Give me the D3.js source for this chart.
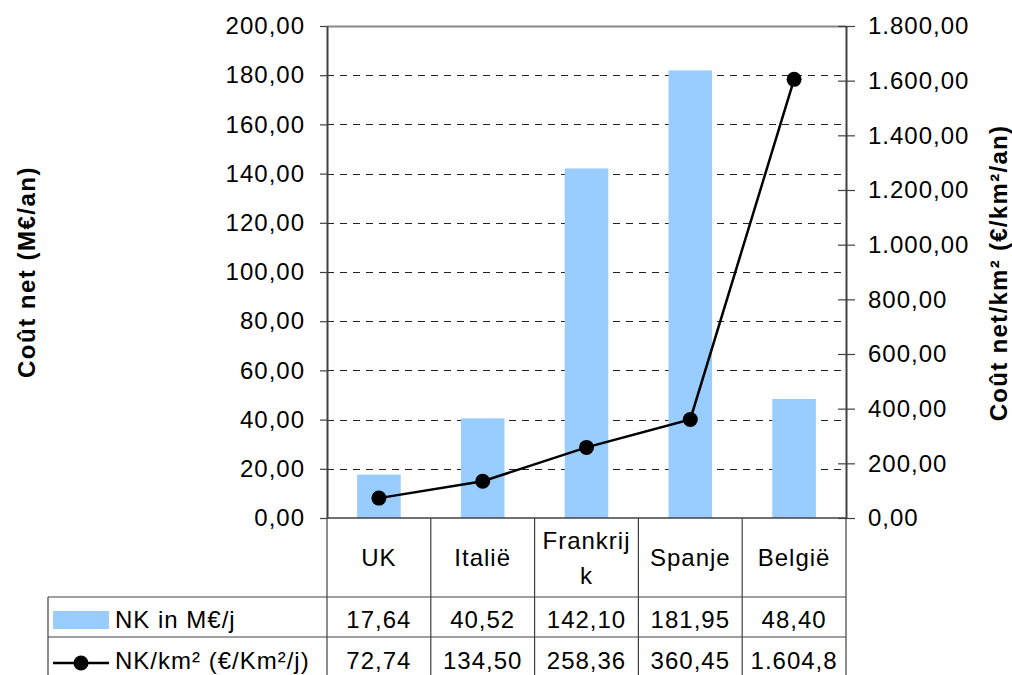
<!DOCTYPE html>
<html>
<head>
<meta charset="utf-8">
<script src="https://cdn.jsdelivr.net/npm/d3@7"></script>
<style>
  body { margin: 0; background: #fff; }
  text { font-family: "Liberation Sans", Arial, sans-serif; fill: #000; }
</style>
</head>
<body>
<svg id="chart" width="1012" height="675"></svg>
<script>
// Net cost per country: total (M€/year) and per km² (€/km²/year)
const categories = ["UK", "Italië", "Frankrijk", "Spanje", "België"];
const costMillion = [17.64, 40.52, 142.10, 181.95, 48.40];
const costPerKm2 = [72.74, 134.50, 258.36, 360.45, 1604.8];
const leftTicks = [0, 20, 40, 60, 80, 100, 120, 140, 160, 180, 200];
const rightTicks = [0, 200, 400, 600, 800, 1000, 1200, 1400, 1600, 1800];
const seriesNames = ["NK in M€/j", "NK/km² (€/Km²/j)"];
const axisTitles = ["Coût net (M€/an)", "Coût net/km² (€/km²/an)"];

const W = 1012, H = 675;
const plot = { left: 327, right: 846, top: 26, bottom: 518 };
const table = { legendLeft: 48, headerBottom: 597, row1Bottom: 637, bottom: 677 };
const barColor = "#99CCFF";
const lineColor = "#404040";
const fontSize = 24;

const nl = d3.formatLocale({ decimal: ",", thousands: ".", grouping: [3], currency: ["€", ""] });
const fmt = nl.format(",.2f");

const svg = d3.select("#chart");
svg.append("rect").attr("width", W).attr("height", H).attr("fill", "#fff");

const x = d3.scaleBand().domain(categories).range([plot.left, plot.right]).paddingInner(0).paddingOuter(0);
const yLeft = d3.scaleLinear().domain([0, 200]).range([plot.bottom, plot.top]);
const yRight = d3.scaleLinear().domain([0, 1800]).range([plot.bottom, plot.top]);
const barW = x.bandwidth() * 0.42;
const cx = c => x(c) + x.bandwidth() / 2;

// gridlines
svg.append("g").selectAll("line")
  .data(leftTicks.filter(t => t > 0))
  .join("line")
  .attr("x1", plot.left).attr("x2", plot.right)
  .attr("y1", d => Math.round(yLeft(d)) + 0.5).attr("y2", d => Math.round(yLeft(d)) + 0.5)
  .attr("stroke", d => d === 200 ? "#888" : "#222")
  .attr("stroke-width", d => d === 200 ? 2 : 1)
  .attr("stroke-dasharray", d => d === 200 ? null : "7,6");

// bars
svg.append("g").selectAll("rect")
  .data(categories)
  .join("rect")
  .attr("x", c => cx(c) - barW / 2)
  .attr("width", barW)
  .attr("y", (c, i) => yLeft(costMillion[i]))
  .attr("height", (c, i) => yLeft(0) - yLeft(costMillion[i]))
  .attr("fill", barColor);

// table grid lines
const tg = svg.append("g").attr("stroke", lineColor).attr("stroke-width", 1.2);
const bounds = categories.map(c => x(c)).concat([plot.right]);
bounds.forEach(b => {
  tg.append("line").attr("x1", b).attr("x2", b).attr("y1", plot.bottom).attr("y2", table.bottom);
});
tg.append("line").attr("x1", table.legendLeft).attr("x2", table.legendLeft)
  .attr("y1", table.headerBottom).attr("y2", table.bottom);
[table.headerBottom, table.row1Bottom].forEach(yy => {
  tg.append("line").attr("x1", table.legendLeft).attr("x2", plot.right)
    .attr("y1", yy).attr("y2", yy);
});

// left axis
const axL = svg.append("g")
  .attr("transform", `translate(${plot.left},0)`)
  .call(d3.axisLeft(yLeft).tickValues(leftTicks).tickSize(7).tickSizeOuter(0).tickPadding(15).tickFormat(fmt));
axL.select(".domain").attr("stroke", lineColor).attr("stroke-width", 2);
axL.selectAll(".tick line").attr("stroke", lineColor).attr("stroke-width", 1.2);
axL.selectAll(".tick text")
  .attr("font-size", fontSize).attr("letter-spacing", "1px")
  .attr("font-family", "Liberation Sans, Arial, sans-serif").attr("fill", "#000");

// right axis (ticks cross the axis line)
const axR = svg.append("g")
  .attr("transform", `translate(${plot.right},0)`)
  .call(d3.axisRight(yRight).tickValues(rightTicks).tickSize(9).tickSizeOuter(0).tickPadding(13).tickFormat(fmt));
axR.select(".domain").attr("stroke", lineColor).attr("stroke-width", 2);
axR.selectAll(".tick line").attr("x1", -8).attr("stroke", lineColor).attr("stroke-width", 1.2);
axR.selectAll(".tick text")
  .attr("font-size", fontSize).attr("letter-spacing", "1px")
  .attr("font-family", "Liberation Sans, Arial, sans-serif").attr("fill", "#000");

// bottom baseline
svg.append("line")
  .attr("x1", plot.left).attr("x2", plot.right)
  .attr("y1", plot.bottom).attr("y2", plot.bottom)
  .attr("stroke", lineColor).attr("stroke-width", 1.5);

// line series on the right axis
const line = d3.line().x((d, i) => cx(categories[i])).y(d => yRight(d));
svg.append("path")
  .datum(costPerKm2)
  .attr("d", line)
  .attr("fill", "none")
  .attr("stroke", "#000")
  .attr("stroke-width", 2.5);
svg.append("g").selectAll("circle")
  .data(costPerKm2)
  .join("circle")
  .attr("cx", (d, i) => cx(categories[i]))
  .attr("cy", d => yRight(d))
  .attr("r", 7.5)
  .attr("fill", "#000");

// axis titles
svg.append("text")
  .attr("transform", `translate(26,${(plot.top + plot.bottom) / 2}) rotate(-90)`)
  .attr("text-anchor", "middle").attr("dominant-baseline", "central")
  .attr("font-size", fontSize).attr("font-weight", "bold").attr("letter-spacing", "1.5px")
  .text(axisTitles[0]);
svg.append("text")
  .attr("transform", `translate(998,${(plot.top + plot.bottom) / 2 + 1}) rotate(-90)`)
  .attr("text-anchor", "middle").attr("dominant-baseline", "central")
  .attr("font-size", fontSize).attr("font-weight", "bold").attr("letter-spacing", "1.3px")
  .text(axisTitles[1]);

// data table text
const cellText = (xx, yy, s) => svg.append("text")
  .attr("x", xx).attr("y", yy).attr("text-anchor", "middle")
  .attr("font-size", fontSize).attr("letter-spacing", "1px").text(s);
const avail = x.bandwidth() - 8;

// header: category names, wrapped per character when too wide for the cell
categories.forEach(c => {
  const probe = cellText(-1000, -1000, c);
  let lines = [c];
  if (probe.node().getComputedTextLength() > avail) {
    lines = [];
    let cur = "";
    for (const ch of c) {
      probe.text(cur + ch);
      if (probe.node().getComputedTextLength() > avail && cur) { lines.push(cur); cur = ch; }
      else cur += ch;
    }
    lines.push(cur);
  }
  probe.remove();
  const lh = 35;
  const mid = (plot.bottom + table.headerBottom) / 2;
  lines.forEach((l, k) => {
    const base = mid + 8.5 + (k - (lines.length - 1) / 2) * lh;
    cellText(cx(c), base, l);
  });
});

// value rows: trailing characters that do not fit in the cell are cut
const fitText = (xx, yy, s) => {
  const t = cellText(xx, yy, s);
  let str = s;
  while (t.node().getComputedTextLength() > avail && str.length > 1) {
    str = str.slice(0, -1);
    t.text(str);
  }
  return t;
};
categories.forEach((c, i) => {
  fitText(cx(c), 628, fmt(costMillion[i]));
  fitText(cx(c), 669, fmt(costPerKm2[i]));
});

// legend keys in the first column
svg.append("rect").attr("x", 53).attr("y", 611).attr("width", 56).attr("height", 18).attr("fill", barColor);
svg.append("line").attr("x1", 53).attr("x2", 109).attr("y1", 663).attr("y2", 663)
  .attr("stroke", "#000").attr("stroke-width", 2.5);
svg.append("circle").attr("cx", 81).attr("cy", 663).attr("r", 7.5).attr("fill", "#000");
svg.append("text").attr("x", 115).attr("y", 628).attr("font-size", fontSize).attr("letter-spacing", "1px").text(seriesNames[0]);
svg.append("text").attr("x", 115).attr("y", 669).attr("font-size", fontSize).attr("letter-spacing", "1px").text(seriesNames[1]);
</script>
</body>
</html>
